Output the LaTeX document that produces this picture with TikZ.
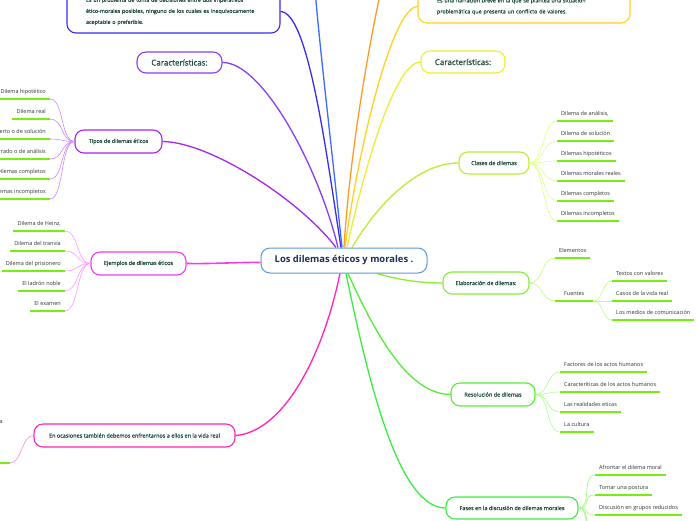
\documentclass[tikz,border=0pt]{standalone}
\usepackage{fontspec}
\setmainfont{Open Sans}
\newfontfamily\semib{Open Sans}[FakeBold=0.5]
\usetikzlibrary{calc}
\pgfdeclarelayer{bg}
\pgfsetlayers{bg,main}
\definecolor{cTitle}{HTML}{1B2F57}
\definecolor{cBoxTxt}{HTML}{1F4A3C}
\definecolor{cLeafTxt}{HTML}{333333}
\definecolor{cCenter}{HTML}{5B9BD5}
\definecolor{cPurA}{HTML}{8A3CF0}
\definecolor{cPurB}{HTML}{A626EE}
\definecolor{cBlueV}{HTML}{3B2BEE}
\definecolor{cBlue}{HTML}{3B6BFF}
\definecolor{cOrange}{HTML}{FF9A2A}
\definecolor{cGold}{HTML}{FFD21F}
\definecolor{cYellow}{HTML}{EEEE33}
\definecolor{cYGreen}{HTML}{BBEE33}
\definecolor{cGreenA}{HTML}{88EE33}
\definecolor{cGreenB}{HTML}{55EE33}
\definecolor{cGreenC}{HTML}{3BEE44}
\definecolor{cMag}{HTML}{F03CF0}
\definecolor{cPink}{HTML}{FF22BB}
\definecolor{cULine}{HTML}{77EE11}
\definecolor{cPurL}{HTML}{CC88FF}
\definecolor{cMagL}{HTML}{FF99FF}
\definecolor{cPinkL}{HTML}{FF88CC}
\definecolor{cYGreenL}{HTML}{DDFF88}
\definecolor{cGreenAL}{HTML}{BBFF77}
\definecolor{cGreenBL}{HTML}{AAFF88}
\definecolor{cGreenCL}{HTML}{99FF77}
\begin{document}
\begin{tikzpicture}[x=1pt,y=-1pt,
  box/.style={draw, fill=white, rounded corners=9pt, line width=1.1pt, text=cBoxTxt,
    font=\semib\fontsize{5.5}{6.5}\selectfont, inner sep=0pt, align=center},
  bigtxt/.style={font=\semib\fontsize{8}{9}\selectfont},
  leaf/.style={text=cLeafTxt, font=\fontsize{5.5}{6.6}\selectfont, inner xsep=4pt,
    inner ysep=4pt, text height=4.2pt, text depth=1.5pt},
  uline/.style={draw=cULine, line width=1.4pt},
  main/.style={line width=1.3pt},
  sub/.style={line width=0.6pt},
  sc/.style={to path={.. controls ($(\tikztostart)+(#1,0)$) and ($(\tikztotarget)-(#1,0)$) .. (\tikztotarget)}}
]
\useasboundingbox (0,0) rectangle (696,520);
\begin{pgfonlayer}{bg}
\fill[white] (0,0) rectangle (696,520);
\end{pgfonlayer}

% ---------- main nodes ----------
\node[box, draw=cCenter, line width=1pt, minimum width=166, minimum height=25, text=cTitle,
  font=\fontsize{9.4}{11}\selectfont\bfseries] (root) at (344,260.5) {Los dilemas éticos y morales .};
\node[box, draw=cBlueV, text width=175, inner xsep=19pt, minimum height=43, align=left,
  font=\semib\fontsize{5.4}{11}\selectfont] (tlbox) at (173.5,11.5)
  {Es un problema de toma de decisiones entre dos imperativos\\ético-morales posibles, ninguno de los cuales es inequívocamente\\aceptable o preferible.};
\node[box, draw=cGold, text width=174, inner xsep=19pt, minimum height=33, align=left,
  font=\semib\fontsize{5.4}{11}\selectfont] (trbox) at (524,6.5)
  {Es una narración breve en la que se plantea una situación\\problemática que presenta un conflicto de valores.};
\node[box, bigtxt, draw=cPurA, minimum width=85, minimum height=21] (carL) at (179.5,62.5) {Características:};
\node[box, bigtxt, draw=cYellow, minimum width=84, minimum height=22] (carR) at (463,62) {Características:};
\node[box, draw=cPurB, minimum width=87, minimum height=23] (tipos) at (118.5,141.5) {Tipos de dilemas éticos};
\node[box, draw=cMag, minimum width=95, minimum height=23] (ejem) at (138.5,263.5) {Ejemplos de dilemas éticos};
\node[box, draw=cPink, minimum width=201, minimum height=23] (ocas) at (134.5,435.5) {En ocasiones también debemos enfrentarnos a ellos en la vida real};
\node[box, draw=cYGreen, minimum width=70, minimum height=22] (clases) at (494,163) {Clases de dilemas};
\node[box, draw=cGreenA, minimum width=86, minimum height=22] (elab) at (486,283) {Elaboración de dilemas:};
\node[box, draw=cGreenB, minimum width=84, minimum height=23] (resol) at (493,394.5) {Resolución de dilemas};
\node[box, draw=cGreenC, minimum width=132, minimum height=22] (fases) at (512,508) {Fases en la discusión de dilemas morales};

\coordinate (offB) at (315,-10);
\coordinate (offO) at (381,-10);

% ---------- main connectors ----------
\begin{pgfonlayer}{bg}
\draw[main, draw=cPurA] ([xshift=-6]root.north) .. controls (318,165) and (262,62) .. (carL.east);
\draw[main, draw=cPurB] ([xshift=-8]root.north) .. controls (300,200) and (210,142) .. (tipos.east);
\draw[main, draw=cBlueV] ([xshift=-3]root.north) .. controls (326,150) and (308,12) .. (tlbox.east);
\draw[main, draw=cBlue] ([xshift=-2]root.north) .. controls (332,150) and (321,60) .. (offB);
\draw[main, draw=cOrange] (root.north) .. controls (350,150) and (370,40) .. (offO);
\draw[main, draw=cGold] ([xshift=1]root.north) .. controls (358,150) and (392,7) .. (trbox.west);
\draw[main, draw=cYellow] ([xshift=3]root.north) .. controls (366,160) and (396,62) .. (carR.west);
\draw[main, draw=cYGreen] ([xshift=8]root.north) .. controls (380,200) and (420,163) .. (clases.west);
\draw[main, draw=cMag, line width=1.6pt] (ejem.east) .. controls (215,264) and (240,262) .. ([yshift=-2pt]root.west);
\draw[main, draw=cPink] ([xshift=-4]root.south) .. controls (322,360) and (282,432) .. (ocas.east);
\draw[main, draw=cGreenA] ([xshift=33]root.south) .. controls (400,280) and (420,283) .. (elab.west);
\draw[main, draw=cGreenB] ([xshift=4]root.south) .. controls (378,340) and (410,394) .. (resol.west);
\draw[main, draw=cGreenC] ([xshift=2]root.south) .. controls (370,390) and (400,508) .. (fases.west);
\end{pgfonlayer}

% ---------- Tipos leaves ----------
\node[leaf, anchor=south east] (t1) at (50,99) {Dilema hipotético};
\node[leaf, anchor=south east] (t2) at (50,119) {Dilema real};
\node[leaf, anchor=south east] (t3) at (50,139) {Dilema abierto o de solución};
\node[leaf, anchor=south east] (t4) at (50,159) {Dilema cerrado o de análisis};
\node[leaf, anchor=south east] (t5) at (50,179) {Dilemas completos};
\node[leaf, anchor=south east] (t6) at (50,199) {Dilemas incompletos};
\foreach \n in {t1,t2,t3,t4,t5,t6}{
  \draw[uline] (\n.south west) -- (\n.south east);
  \draw[sub, draw=cPurL] (tipos.west) to[sc=-14] (\n.south east);
}

% ---------- Ejemplos leaves ----------
\node[leaf, anchor=south east] (e1) at (65,231) {Dilema de Heinz,};
\node[leaf, anchor=south east] (e2) at (65,251) {Dilema del tranvía};
\node[leaf, anchor=south east] (e3) at (65,271) {Dilema del prisionero};
\node[leaf, anchor=south east] (e4) at (65,291) {El ladrón noble};
\node[leaf, anchor=south east] (e5) at (65,311) {El examen};
\foreach \n in {e1,e2,e3,e4,e5}{
  \draw[uline] (\n.south west) -- (\n.south east);
  \draw[sub, draw=cMagL] (ejem.west) to[sc=-14] (\n.south east);
}

% ---------- Ocasiones leaf ----------
\node[text=cLeafTxt, font=\fontsize{5.5}{6.6}\selectfont, inner sep=0pt, anchor=east] (oca) at (3,422) {a};
\coordinate (oc0) at (-5,463);
\coordinate (oc1) at (10,463);
\draw[uline] (oc0) -- (oc1);
\draw[sub, draw=cPinkL] (ocas.west) to[sc=-12] (oc1);

% ---------- Clases leaves ----------
\node[leaf, anchor=south west] (c1) at (557,121) {Dilema de análisis,};
\node[leaf, anchor=south west] (c2) at (557,141) {Dilema de solución};
\node[leaf, anchor=south west] (c3) at (557,161) {Dilemas hipotéticos};
\node[leaf, anchor=south west] (c4) at (557,181) {Dilemas morales reales};
\node[leaf, anchor=south west] (c5) at (557,201) {Dilemas completos};
\node[leaf, anchor=south west] (c6) at (557,221) {Dilemas incompletos};
\foreach \n in {c1,c2,c3,c4,c5,c6}{
  \draw[uline] (\n.south west) -- (\n.south east);
  \draw[sub, draw=cYGreenL] (clases.east) to[sc=14] (\n.south west);
}

% ---------- Elaboracion leaves ----------
\node[leaf, anchor=south west] (l1) at (555,258) {Elementos};
\node[leaf, anchor=south west, minimum width=38] (l2) at (555,301) {Fuentes};
\foreach \n in {l1,l2}{
  \draw[uline] (\n.south west) -- (\n.south east);
  \draw[sub, draw=cGreenAL] (elab.east) to[sc=14] (\n.south west);
}
\node[leaf, anchor=south west] (s1) at (612,281) {Textos con valores};
\node[leaf, anchor=south west] (s2) at (612,301) {Casos de la vida real};
\node[leaf, anchor=south west] (s3) at (612,320) {Los medios de comunicación};
\foreach \n in {s1,s2,s3}{
  \draw[uline] (\n.south west) -- (\n.south east);
  \draw[sub, draw=cGreenAL] (l2.south east) to[sc=10] (\n.south west);
}

% ---------- Resolucion leaves ----------
\node[leaf, anchor=south west] (r1) at (560,372) {Factores de los actos humanos};
\node[leaf, anchor=south west] (r2) at (560,392) {Caracteríticas de los actos humanos};
\node[leaf, anchor=south west] (r3) at (560,412) {Las realidades eticas};
\node[leaf, anchor=south west] (r4) at (560,432) {La cultura};
\foreach \n in {r1,r2,r3,r4}{
  \draw[uline] (\n.south west) -- (\n.south east);
  \draw[sub, draw=cGreenBL] (resol.east) to[sc=14] (\n.south west);
}

% ---------- Fases leaves ----------
\node[leaf, anchor=south west] (f1) at (595,475) {Afrontar el dilema moral};
\node[leaf, anchor=south west] (f2) at (595,495) {Tomar una postura};
\node[leaf, anchor=south west] (f3) at (595,515) {Discusión en grupos reducidos};
\coordinate (f4) at (595,535);
\coordinate (f5) at (595,555);
\foreach \n in {f1,f2,f3}{
  \draw[uline] (\n.south west) -- (\n.south east);
}
\foreach \n in {f1.south west,f2.south west,f3.south west,f4,f5}{
  \draw[sub, draw=cGreenCL] (fases.east) to[sc=14] (\n);
}
\end{tikzpicture}
\end{document}
